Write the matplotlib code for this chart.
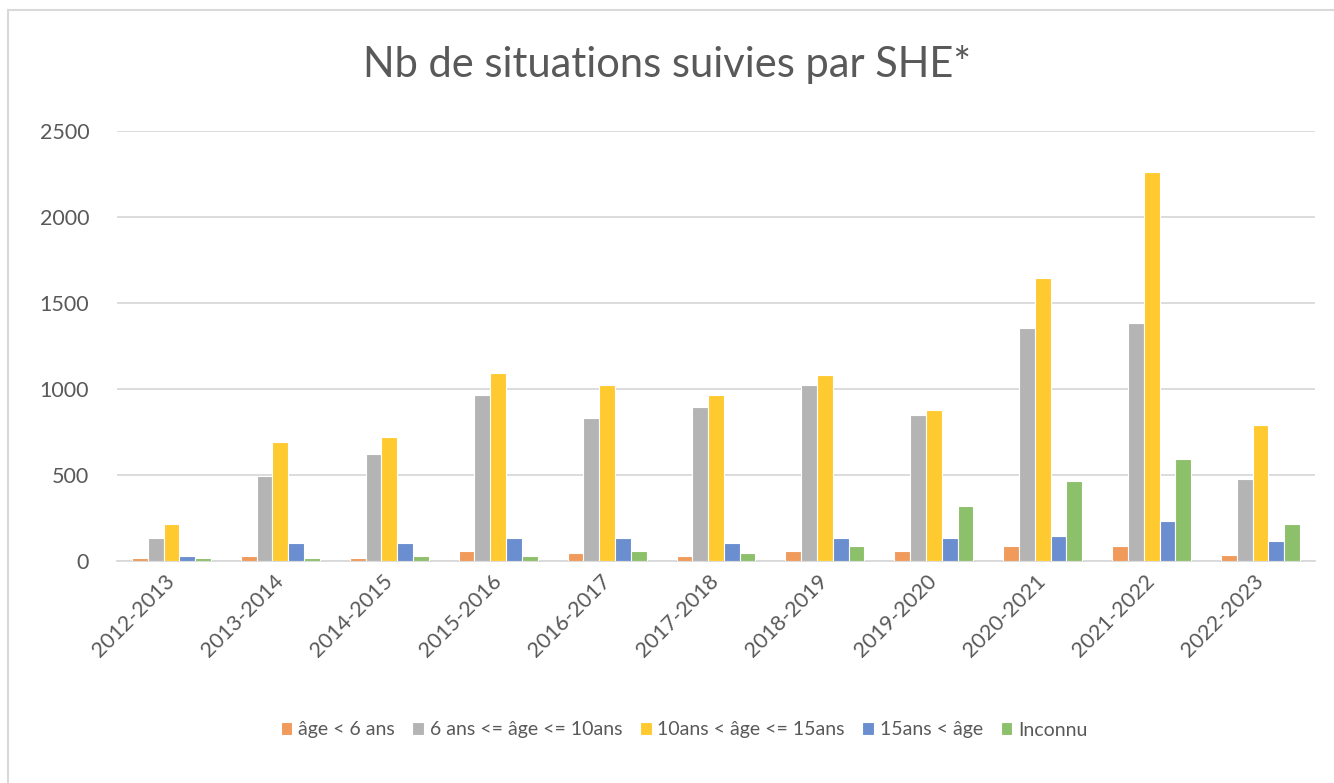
import matplotlib.pyplot as plt
import numpy as np
from matplotlib.lines import Line2D

plt.rcParams['font.family'] = ['Lato', 'DejaVu Sans']

seasons = ["2012-2013", "2013-2014", "2014-2015", "2015-2016", "2016-2017",
           "2017-2018", "2018-2019", "2019-2020", "2020-2021", "2021-2022",
           "2022-2023"]
age_lt6 = [17, 30, 17, 60, 45, 30, 58, 58, 90, 90, 32]
age_6_10 = [132, 495, 620, 965, 833, 893, 1023, 848, 1355, 1385, 475]
age_10_15 = [215, 690, 720, 1093, 1023, 965, 1080, 877, 1643, 2262, 793]
age_gt15 = [31, 103, 103, 135, 131, 103, 131, 131, 148, 235, 115]
unknown = [17, 17, 30, 30, 60, 46, 85, 318, 463, 593, 218]

labels = ["âge < 6 ans", "6 ans <= âge <= 10ans", "10ans < âge <= 15ans",
          "15ans < âge", "Inconnu"]
colors = ["#F09A5C", "#B4B4B4", "#FFCA30", "#6A8ECF", "#8DC06A"]
series = [age_lt6, age_6_10, age_10_15, age_gt15, unknown]

fig = plt.figure(figsize=(13.34, 7.83), dpi=100)
ax = fig.add_axes([117 / 1334, 1 - 561 / 783, (1315 - 117) / 1334, 430 / 783])

x = np.arange(len(seasons))
w = 0.145
for k, (vals, lab, col) in enumerate(zip(series, labels, colors)):
    ax.bar(x + (k - 2) * w, vals, width=w, color=col, edgecolor="white",
           linewidth=0.8, label=lab, zorder=3)

ax.set_xlim(-0.5, len(seasons) - 0.5)
ax.set_ylim(0, 2500)
ax.set_yticks(range(0, 2501, 500))
ax.grid(axis="y", color="#D9D9D9", linewidth=1.3, zorder=0)
for s in ["top", "right", "left"]:
    ax.spines[s].set_visible(False)
ax.spines["bottom"].set_color("#D9D9D9")
ax.spines["bottom"].set_linewidth(1.3)
ax.tick_params(axis="both", length=0, labelcolor="#595959", labelsize=15.5)
ax.tick_params(axis="y", pad=20)
ax.set_xticks(x)
ax.set_xticklabels(seasons, rotation=45, ha="right", va="center",
                   rotation_mode="anchor")
ax.tick_params(axis="x", pad=12)

fig.text(0.5, 1 - 65 / 783, "Nb de situations suivies par SHE*",
         ha="center", va="center", fontsize=30, color="#595959")

fig.legend(loc="center", bbox_to_anchor=(684 / 1334, 1 - 730 / 783), ncol=5,
           frameon=False, fontsize=14, labelcolor="#595959",
           handlelength=0.6, handleheight=0.6, handletextpad=0.3,
           columnspacing=0.9)

fig.add_artist(Line2D([8 / 1334, 1], [1 - 10 / 783, 1 - 10 / 783],
                      color="#D9D9D9", linewidth=1.5))
fig.add_artist(Line2D([8 / 1334, 8 / 1334], [0, 1 - 10 / 783],
                      color="#D9D9D9", linewidth=1.5))

fig.savefig("out.png", dpi=100)
